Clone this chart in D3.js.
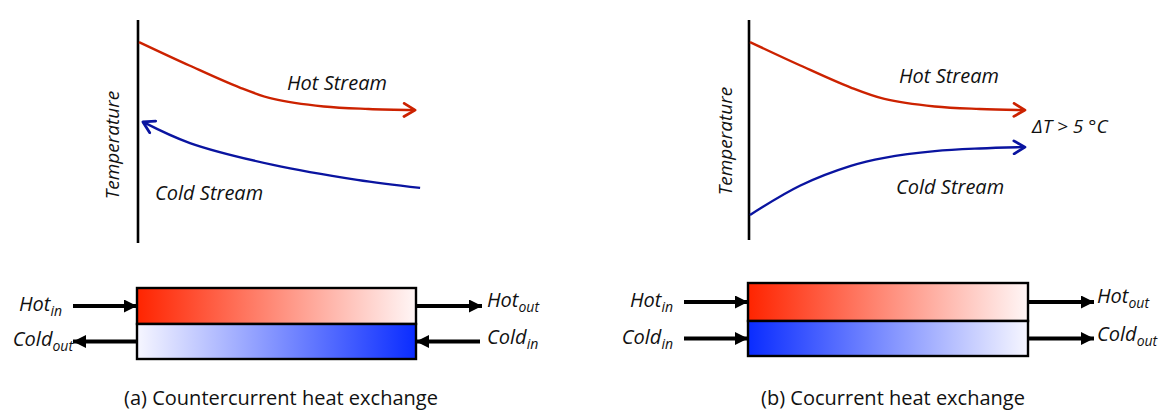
<!DOCTYPE html>
<html><head><meta charset="utf-8">
<script src="https://cdn.jsdelivr.net/npm/d3@7"></script>
<style>
html,body{margin:0;padding:0;background:#fff;}
text{font-family:"Open Sans","Noto Sans",sans-serif;fill:#111;}
.it{font-style:italic;}
</style></head>
<body><svg id="c" width="1164" height="412"></svg>
<script>
// ---- data ----
const panels = ["a", "b"];
const captions = ["(a) Countercurrent heat exchange", "(b) Cocurrent heat exchange"];
const axisLabel = "Temperature";
const streamNames = ["Hot Stream", "Cold Stream"];
const deltaLabel = "\u0394T > 5 \u00B0C";
// countercurrent (a)
const posHotA = [0, 18, 36, 48, 66, 82, 98.6];
const tempHotA = [90.1, 79.6, 69.7, 64.6, 61.2, 60.1, 59.6];
const posColdA = [1.4, 18.2, 47.9, 77.9, 100.4];
const tempColdA = [54.3, 44.8, 35.0, 28.3, 24.7];
// cocurrent (b)
const posB = [0, 18, 36, 48, 66, 82, 98.2];
const tempHotB = [90.1, 79.6, 69.7, 64.6, 61.2, 60.1, 59.6];
const tempColdB = [12.6, 25.8, 34.6, 38.2, 41.2, 42.4, 43.0];
// exchanger port labels [main, subscript]
const portsA = {leftTop:["Hot","in"], leftBot:["Cold","out"], rightTop:["Hot","out"], rightBot:["Cold","in"]};
const portsB = {leftTop:["Hot","in"], leftBot:["Cold","in"], rightTop:["Hot","out"], rightBot:["Cold","out"]};

const svg = d3.select("#c");
const defs = svg.append("defs");
const RED = "#cc2200", BLUE = "#0a14a0";
function chevron(id, color){
  defs.append("marker").attr("id", id).attr("viewBox","0 0 16 16")
    .attr("refX", 14).attr("refY", 8).attr("markerWidth", 16).attr("markerHeight", 16)
    .attr("markerUnits","userSpaceOnUse").attr("orient","auto-start-reverse")
    .append("path").attr("d","M3,1.5 L14,8 L3,14.5").attr("fill","none")
    .attr("stroke", color).attr("stroke-width", 2.8).attr("stroke-linecap","round").attr("stroke-linejoin","round");
}
chevron("chR", RED); chevron("chB", BLUE);
defs.append("marker").attr("id","tri").attr("viewBox","0 0 10 10")
  .attr("refX", 10).attr("refY", 5).attr("markerWidth", 13).attr("markerHeight", 13)
  .attr("markerUnits","userSpaceOnUse").attr("orient","auto-start-reverse")
  .append("path").attr("d","M0,0 L10,5 L0,10 Z").attr("fill","#000");
function grad(id, c1, c2){
  const g = defs.append("linearGradient").attr("id", id).attr("x1","0%").attr("x2","100%").attr("y1","0%").attr("y2","0%");
  g.append("stop").attr("offset","0%").attr("stop-color", c1);
  g.append("stop").attr("offset","100%").attr("stop-color", c2);
}
const HOTC = "#ff2400", HOTW = "#fff6f6", COLDC = "#0a2cff", COLDW = "#f6f6ff";
grad("gHot", HOTC, HOTW);
grad("gColdRev", COLDW, COLDC);
grad("gCold", COLDC, COLDW);

const y = d3.scaleLinear().domain([0, 100]).range([243, 20]);

function graph(x0, x1, axisBottom, hot, cold, coldArrowStart){
  const x = d3.scaleLinear().domain([0, 100]).range([x0, x1]);
  const g = svg.append("g");
  g.append("line").attr("x1", x0-1).attr("x2", x0-1).attr("y1", 20).attr("y2", axisBottom)
    .attr("stroke","#000").attr("stroke-width", 2.6);
  const line = d3.line().x(d=>x(d[0])).y(d=>y(d[1])).curve(d3.curveCatmullRom.alpha(0.5));
  g.append("path").attr("d", line(hot)).attr("fill","none").attr("stroke", RED)
    .attr("stroke-width", 2.4).attr("marker-end","url(#chR)");
  const cp = g.append("path").attr("d", line(cold)).attr("fill","none").attr("stroke", BLUE)
    .attr("stroke-width", 2.4);
  if (coldArrowStart) cp.attr("marker-start","url(#chB)"); else cp.attr("marker-end","url(#chB)");
  return g;
}

const hotA = posHotA.map((p,i)=>[p, tempHotA[i]]);
const coldA = posColdA.map((p,i)=>[p, tempColdA[i]]);
graph(139, 419, 243, hotA, coldA, true);
const hotB = posB.map((p,i)=>[p, tempHotB[i]]);
const coldB = posB.map((p,i)=>[p, tempColdB[i]]);
graph(750, 1030, 240, hotB, coldB, false);

function label(x, yy, t, size, cls, anchor, rot){
  const el = svg.append("text").attr("x", x).attr("y", yy).attr("font-size", size)
    .attr("class", cls||"").attr("text-anchor", anchor||"start").text(t);
  if (rot) el.attr("transform", `rotate(${rot},${x},${yy})`);
  return el;
}
// Temperature axis labels
label(119, 145, axisLabel, 19, "it", "middle", -90);
label(732, 141, axisLabel, 19, "it", "middle", -90);
// stream labels
label(287, 90, streamNames[0], 20, "it");
label(155, 200, streamNames[1], 20, "it");
label(899, 83, streamNames[0], 20, "it");
label(896, 194, streamNames[1], 20, "it");
label(1032, 133, deltaLabel, 19, "it");

// exchanger
function port(x, yy, pair, anchor){
  const t = svg.append("text").attr("x", x).attr("y", yy).attr("font-size", 20)
    .attr("class","it").attr("text-anchor", anchor);
  t.append("tspan").text(pair[0]);
  t.append("tspan").attr("dy", 5).attr("font-size", 14).text(pair[1]);
}
function exchanger(bx0, bx1, top, mid, bot, coldGrad, counter){
  svg.append("rect").attr("x", bx0).attr("y", top).attr("width", bx1-bx0).attr("height", mid-top)
    .attr("fill","url(#gHot)").attr("stroke","#000").attr("stroke-width", 2.4);
  svg.append("rect").attr("x", bx0).attr("y", mid).attr("width", bx1-bx0).attr("height", bot-mid)
    .attr("fill", coldGrad).attr("stroke","#000").attr("stroke-width", 2.4);
  const yt = (top+mid)/2, yb = (mid+bot)/2;
  const L = 64;
  function arr(xa, xb, yy){
    svg.append("line").attr("x1", xa).attr("x2", xb).attr("y1", yy).attr("y2", yy)
      .attr("stroke","#000").attr("stroke-width", 4).attr("marker-end","url(#tri)");
  }
  arr(bx0-L, bx0, yt);
  arr(bx1, bx1+L+2, yt);
  if (counter){ arr(bx0, bx0-L, yb); arr(bx1+L, bx1, yb); }
  else { arr(bx0-L, bx0, yb); arr(bx1, bx1+L+2, yb); }
  return {yt, yb};
}
const eA = exchanger(137, 416, 288, 324, 359, "url(#gColdRev)", true);
port(62, eA.yt+5, portsA.leftTop, "end");
port(73, eA.yb+4, portsA.leftBot, "end");
port(487, eA.yt+1, portsA.rightTop, "start");
port(487, eA.yb+2, portsA.rightBot, "start");
const eB = exchanger(748, 1028, 283, 321, 356, "url(#gCold)", false);
port(673, eB.yt+5, portsB.leftTop, "end");
port(673, eB.yb+5, portsB.leftBot, "end");
port(1097, eB.yt+1, portsB.rightTop, "start");
port(1097, eB.yb+2, portsB.rightBot, "start");

// captions
label(281, 405, captions[0], 20, "", "middle");
label(893, 405, captions[1], 20, "", "middle");
</script></body></html>
